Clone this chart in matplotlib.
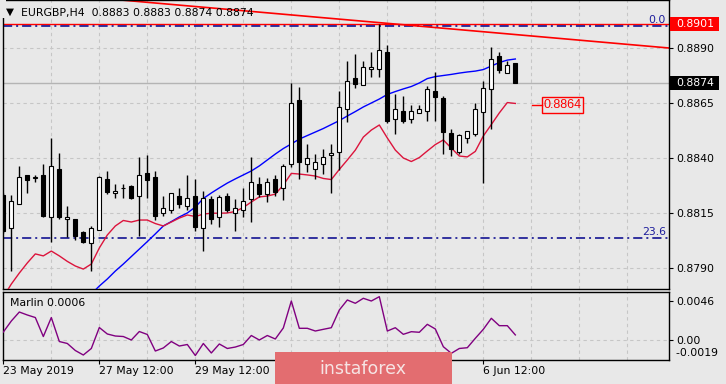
import matplotlib
matplotlib.use("Agg")
import matplotlib.pyplot as plt
import matplotlib.transforms as mtrans
from matplotlib.patches import Rectangle

# --------------------------------------------------------------------------- #
#  Data: EURGBP H4 bars, 23 May 12:00 .. 7 Jun 04:00 (bar index 0..64)
# --------------------------------------------------------------------------- #
opens = [0.88232, 0.88082, 0.88191, 0.88323, 0.88309, 0.88323, 0.88132, 0.88350, 0.88123, 0.88123,
         0.88064, 0.88014, 0.88073, 0.88305, 0.88241, 0.88264, 0.88273, 0.88227, 0.88332, 0.88314,
         0.88150, 0.88164, 0.88227, 0.88182, 0.88227, 0.88082, 0.88214, 0.88132, 0.88227, 0.88150,
         0.88164, 0.88214, 0.88282, 0.88236, 0.88305, 0.88264, 0.88373, 0.88664, 0.88373, 0.88350,
         0.88373, 0.88414, 0.88427, 0.88623, 0.88764, 0.88732, 0.88805, 0.88805, 0.88882, 0.88577,
         0.88614, 0.88577, 0.88605, 0.88614, 0.88705, 0.88673, 0.88514, 0.88427, 0.88491, 0.88509,
         0.88609, 0.88714, 0.88864, 0.88786, 0.88830]
highs = [0.88241, 0.88232, 0.88364, 0.88323, 0.88323, 0.88373, 0.88491, 0.88423, 0.88182, 0.88123,
         0.88068, 0.88091, 0.88318, 0.88341, 0.88282, 0.88282, 0.88277, 0.88405, 0.88414, 0.88341,
         0.88227, 0.88241, 0.88264, 0.88323, 0.88305, 0.88250, 0.88227, 0.88232, 0.88241, 0.88214,
         0.88264, 0.88405, 0.88314, 0.88309, 0.88323, 0.88373, 0.88741, 0.88723, 0.88464, 0.88418,
         0.88441, 0.88464, 0.88705, 0.88841, 0.88873, 0.88841, 0.88882, 0.89009, 0.88914, 0.88691,
         0.88682, 0.88641, 0.88641, 0.88727, 0.88791, 0.88682, 0.88532, 0.88509, 0.88523, 0.88650,
         0.88750, 0.88905, 0.88882, 0.88841, 0.88830]
lows = [0.88059, 0.87886, 0.88191, 0.88241, 0.88291, 0.88132, 0.88018, 0.88123, 0.88041, 0.88027,
        0.88014, 0.87886, 0.88073, 0.88236, 0.88218, 0.88218, 0.88214, 0.88045, 0.88218, 0.88118,
        0.88136, 0.88150, 0.88173, 0.88164, 0.88068, 0.87977, 0.88100, 0.88086, 0.88155, 0.88068,
        0.88132, 0.88109, 0.88223, 0.88200, 0.88227, 0.88209, 0.88359, 0.88305, 0.88336, 0.88305,
        0.88327, 0.88241, 0.88345, 0.88564, 0.88718, 0.88732, 0.88768, 0.88768, 0.88559, 0.88509,
        0.88559, 0.88559, 0.88605, 0.88568, 0.88568, 0.88418, 0.88409, 0.88418, 0.88468, 0.88500,
        0.88286, 0.88532, 0.88786, 0.88786, 0.88740]
closes = [0.88068, 0.88205, 0.88314, 0.88300, 0.88314, 0.88136, 0.88364, 0.88132, 0.88132, 0.88045,
          0.88018, 0.88082, 0.88314, 0.88245, 0.88250, 0.88264, 0.88218, 0.88323, 0.88300, 0.88136,
          0.88173, 0.88241, 0.88191, 0.88218, 0.88086, 0.88218, 0.88123, 0.88223, 0.88164, 0.88173,
          0.88205, 0.88291, 0.88236, 0.88291, 0.88245, 0.88364, 0.88650, 0.88382, 0.88400, 0.88382,
          0.88405, 0.88423, 0.88632, 0.88750, 0.88736, 0.88814, 0.88814, 0.88891, 0.88568, 0.88623,
          0.88568, 0.88614, 0.88623, 0.88714, 0.88677, 0.88518, 0.88441, 0.88505, 0.88523, 0.88623,
          0.88718, 0.88850, 0.88800, 0.88823, 0.88740]

# slow MA (blue) starts at bar 10, fast MA (red) at bar 0
ma_blue_start = 10
ma_blue = [0.87750, 0.87782, 0.87818, 0.87850, 0.87886, 0.87918, 0.87952, 0.87986, 0.88020, 0.88055,
           0.88091, 0.88111, 0.88132, 0.88150, 0.88177, 0.88216, 0.88241, 0.88264, 0.88286, 0.88305,
           0.88323, 0.88341, 0.88364, 0.88391, 0.88418, 0.88443, 0.88464, 0.88486, 0.88502, 0.88518,
           0.88534, 0.88552, 0.88570, 0.88591, 0.88611, 0.88632, 0.88650, 0.88668, 0.88689, 0.88702,
           0.88714, 0.88725, 0.88741, 0.88761, 0.88770, 0.88775, 0.88780, 0.88786, 0.88791, 0.88795,
           0.88802, 0.88818, 0.88834, 0.88845, 0.88850]
ma_red = [0.87768, 0.87827, 0.87877, 0.87923, 0.87964, 0.87955, 0.87977, 0.87955, 0.87930, 0.87909,
          0.87895, 0.87918, 0.87991, 0.88050, 0.88091, 0.88116, 0.88109, 0.88118, 0.88118, 0.88102,
          0.88091, 0.88109, 0.88127, 0.88141, 0.88134, 0.88145, 0.88149, 0.88149, 0.88150, 0.88157,
          0.88175, 0.88200, 0.88223, 0.88227, 0.88236, 0.88277, 0.88330, 0.88327, 0.88323, 0.88318,
          0.88307, 0.88302, 0.88348, 0.88391, 0.88436, 0.88495, 0.88527, 0.88550, 0.88491, 0.88436,
          0.88400, 0.88384, 0.88402, 0.88432, 0.88461, 0.88482, 0.88445, 0.88409, 0.88405, 0.88430,
          0.88500, 0.88552, 0.88605, 0.88652, 0.88648]

marlin = [0.00094, 0.00224, 0.00330, 0.00295, 0.00265, 0.00041, 0.00265, -0.00018, -0.00041, -0.00124,
          -0.00177, -0.00100, 0.00147, 0.00071, 0.00047, 0.00041, 0.00000, 0.00100, 0.00065, -0.00130,
          -0.00094, -0.00018, -0.00071, -0.00053, -0.00183, -0.00041, -0.00153, -0.00047, -0.00100, -0.00083,
          -0.00053, 0.00053, 0.00000, 0.00053, 0.00012, 0.00142, 0.00460, 0.00138, 0.00138, 0.00106,
          0.00126, 0.00145, 0.00354, 0.00472, 0.00433, 0.00492, 0.00460, 0.00511, 0.00106, 0.00145,
          0.00067, 0.00098, 0.00091, 0.00185, 0.00130, -0.00079, -0.00157, -0.00100, -0.00091, 0.00020,
          0.00126, 0.00256, 0.00169, 0.00169, 0.00060]

# labels at bars 36 and 48 sit under the watermark in the source, so left blank
xtick_bars = [0, 12, 24, 36, 48, 60]
xtick_labels = ["23 May 2019", "27 May 12:00", "29 May 12:00", "", "", "6 Jun 12:00"]
price_ticks = [0.8790, 0.8815, 0.8840, 0.8865, 0.8890]
marlin_ticks = [0.0046, 0.0]
marlin_labels = ["0.0046", "0.00"]
marlin_min_label = "-0.0019"

fib_0 = 0.8900
fib_236 = 0.88036
red_level = 0.8901
bid = 0.8874
trend_x = [0, 83.2]
trend_y = [0.89165, 0.8890]
arrow_price = 0.8864
arrow_bars = [66.1, 67.35, 72.45]

title = "EURGBP,H4  0.8883 0.8883 0.8874 0.8874"
marlin_title = "Marlin 0.0006"

# --------------------------------------------------------------------------- #
#  Figure
# --------------------------------------------------------------------------- #
BG = "#e8e8e8"
GRID = "#c6c6c6"
W, H = 726, 384
FS = 7.8

plt.rcParams["font.family"] = ["DejaVu Sans"]
fig = plt.figure(figsize=(W / 100, H / 100), dpi=100, facecolor=BG)
ax = fig.add_axes([3 / W, 1 - 289 / H, 666 / W, 289 / H])
axm = fig.add_axes([3 / W, 1 - 360 / H, 666 / W, 68 / H], sharex=ax)

XL = (-0.04, 83.21)
for a in (ax, axm):
    a.set_facecolor(BG)
    for s in a.spines.values():
        s.set_linewidth(1.0)
        s.set_color("black")
    for g in range(6, 84, 6):
        a.axvline(g, color=GRID, lw=0.8, ls=(0, (3, 3)), zorder=0)

# main panel
for p in price_ticks:
    ax.axhline(p, color=GRID, lw=0.8, ls=(0, (3, 3)), zorder=0)

ax.axhline(bid, color="#b4b4b4", lw=1.0, zorder=1)
ax.axhline(red_level, color="#ff0000", lw=1.0, zorder=2)
for lvl in (fib_0, fib_236):
    ax.axhline(lvl, color="#00008b", lw=1.1, ls=(0, (6, 2.6, 1.3, 2.6)), zorder=2)
ax.text(82.8, fib_0 + 0.00005, "0.0", color="#1c1c9c", fontsize=FS,
        ha="right", va="bottom")
ax.text(82.8, fib_236 + 0.00005, "23.6", color="#1c1c9c", fontsize=FS,
        ha="right", va="bottom")

ax.plot(trend_x, trend_y, color="#ff0000", lw=1.2, zorder=2)

ax.plot(range(ma_blue_start, ma_blue_start + len(ma_blue)), ma_blue,
        color="#0000ff", lw=1.0, zorder=4)
ax.plot(range(len(ma_red)), ma_red, color="#dc143c", lw=1.0, zorder=4)

bw = 0.46
for i, (o, h, l, c) in enumerate(zip(opens, highs, lows, closes)):
    ax.plot([i, i], [l, h], color="black", lw=1.0, zorder=5, solid_capstyle="butt")
    lo, hi = min(o, c), max(o, c)
    ax.add_patch(Rectangle((i - bw / 2, lo), bw, max(hi - lo, 0.00001),
                           facecolor="white" if c >= o else "black",
                           edgecolor="black", lw=0.8, zorder=6))

# price-arrow label 0.8864
ax.plot(arrow_bars[:2], [arrow_price, arrow_price], color="#ff0000", lw=1.0, zorder=6)
ax.add_patch(Rectangle((arrow_bars[1], arrow_price - 0.00036),
                       arrow_bars[2] - arrow_bars[1], 0.00072,
                       facecolor="none", edgecolor="#ff0000", lw=1.0, zorder=6))
ax.text((arrow_bars[1] + arrow_bars[2]) / 2, arrow_price, "0.8864", color="#ff0000",
        fontsize=9, family="Liberation Sans", ha="center", va="center", zorder=7)

ax.set_xlim(*XL)
ax.set_ylim(0.878045, 0.891182)
ax.yaxis.tick_right()
ax.set_yticks(price_ticks)
ax.set_yticklabels([f"{p:.4f}" for p in price_ticks])
ax.tick_params(axis="y", length=3, width=0.8, pad=2, labelsize=FS)
ax.tick_params(axis="x", bottom=False, labelbottom=False)

# right-scale highlighted labels
blend = mtrans.blended_transform_factory(fig.transFigure, ax.transData)
for price, face in ((red_level, "#ff0000"), (bid, "black")):
    ax.add_patch(Rectangle((670 / W, price - 0.00032), 49 / W, 0.00064,
                           transform=blend, facecolor=face, edgecolor="none",
                           clip_on=False, zorder=8))
    ax.text(676 / W, price, f"{price:.4f}", transform=blend, color="white",
            fontsize=FS, ha="left", va="center", clip_on=False, zorder=9)

# indicator panel
axm.axhline(0.0, color=GRID, lw=0.8, ls=(0, (3, 3)), zorder=0)
axm.plot(range(len(marlin)), marlin, color="#800080", lw=1.0, zorder=3)
axm.set_ylim(-0.002359, 0.005662)
axm.yaxis.tick_right()
axm.set_yticks(marlin_ticks)
axm.set_yticklabels(marlin_labels)
axm.tick_params(axis="y", length=3, width=0.8, pad=2, labelsize=FS)
mblend = mtrans.blended_transform_factory(axm.transAxes, axm.transData)
axm.text(1.0, -0.00153, "  " + marlin_min_label, transform=mblend,
         fontsize=FS, ha="left", va="center")
axm.text(7 / 666, 0.0044, marlin_title, transform=mblend,
         fontsize=FS, ha="left", va="center")

axm.set_xticks(xtick_bars)
axm.set_xticklabels(xtick_labels, ha="left")
axm.tick_params(axis="x", length=3, width=0.8, pad=1, labelsize=FS)
axm.set_xlim(*XL)

# title
fig.patches.append(Rectangle((0, 1 - 18 / H), 6 / W, 18 / H, transform=fig.transFigure,
                             facecolor=BG, edgecolor="none", zorder=3))
fig.text(6 / W, 1 - 12 / H, "\u25bc", fontsize=7.5, ha="left", va="center", zorder=4)
fig.text(21 / W, 1 - 13 / H, title, fontsize=FS, ha="left", va="center", zorder=4)

# watermark
fig.patches.append(Rectangle((275 / W, 0), 177 / W, 32 / H, transform=fig.transFigure,
                             facecolor="#e36d70", edgecolor="none", zorder=5))
fig.text(363 / W, 15 / H, "instaforex", color="#f6e4e4", fontsize=12.5,
         ha="center", va="center", zorder=6)

fig.savefig("out.png", dpi=100, facecolor=BG)
